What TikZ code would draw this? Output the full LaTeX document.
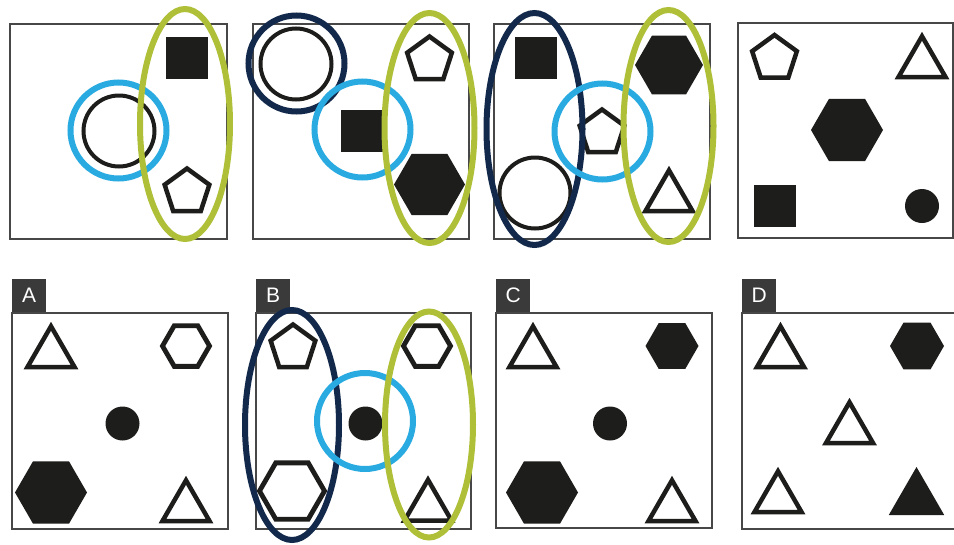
\documentclass[tikz,border=0pt]{standalone}
\usepackage{fontspec}
\setmainfont{Liberation Sans}

\definecolor{ink}{HTML}{1D1D1B}
\definecolor{frame}{HTML}{474747}
\definecolor{hexgray}{HTML}{3C3C3C}
\definecolor{tagbg}{HTML}{3A3A3A}
\definecolor{cyanring}{HTML}{29ABE2}
\definecolor{limering}{HTML}{AFC038}
\definecolor{navyring}{HTML}{13294B}

\tikzset{
  panel/.style={draw=frame,line width=2pt,fill=white,inner sep=0pt},
  tag/.style={fill=tagbg,text=white,font=\fontsize{21}{21}\selectfont,minimum width=34pt,minimum height=33pt,inner sep=0pt,anchor=south west},
  outl/.style={draw=ink,line width=4.5pt},
  ring/.style={line width=6pt},
  % shapes inside the panels
  tri/.pic={\draw[outl] (-90:27.2) -- (30:27.2) -- (150:27.2) -- cycle;},
  trif/.pic={\fill[ink] (-90:32) -- (30:32) -- (150:32) -- cycle;},
  pent/.pic={\draw[outl] (-90:23.5) -- (-18:23.5) -- (54:23.5) -- (126:23.5) -- (198:23.5) -- cycle;},
  hexf/.pic={\fill[ink] (0:#1) \foreach \a in {60,120,...,300}{ -- (\a:#1)} -- cycle;},
  hexo/.pic={\draw[outl,line width=4.8pt,pic actions] (0:#1) \foreach \a in {60,120,...,300}{ -- (\a:#1)} -- cycle;},
  sq/.pic={\fill[ink] (-21,-21) rectangle (21,21);},
  dot/.pic={\fill[ink] (0,0) circle (17);},
  circ/.pic={\draw[outl,line width=4pt] (0,0) circle (35.5);}
}

\begin{document}
\begin{tikzpicture}[x=1pt,y=-1pt]
\useasboundingbox (0,0) rectangle (954,544);

% question row
\node[panel,minimum width=217pt,minimum height=215pt] (q1) at (118.5,131.5) {};
\node[panel,minimum width=216pt,minimum height=215pt] (q2) at (361,131.5) {};
\node[panel,minimum width=216pt,minimum height=215pt] (q3) at (602,131.5) {};
\node[panel,minimum width=215pt,minimum height=215pt] (q4) at (845.5,130.5) {};

% answer row
\node[panel,minimum width=216pt,minimum height=216pt] (pA) at (120,421) {};
\node[panel,minimum width=215pt,minimum height=216pt] (pB) at (363.5,421) {};
\node[panel,minimum width=216pt,minimum height=215pt] (pC) at (604,420.5) {};
\node[panel,minimum width=220pt,minimum height=216pt] (pD) at (852,421) {};
\node[tag] (tA) at (12,312) {A};
\node[tag] (tB) at (256,312) {B};
\node[tag] (tC) at (496,312) {C};
\node[tag] (tD) at (742,312) {D};

% panel 1
\pic at (187,58) {sq};
\pic at (119,131) {circ};
\pic at (187,192) {pent};
\draw[ring,cyanring] (118.5,130.5) circle (48);
\draw[ring,limering] (185,124) ellipse [x radius=45,y radius=115];

% panel 2
\pic at (296,64) {circ};
\pic at (362,131) {sq};
\pic at (429.5,60) {pent};
\pic at (429.5,184.5) {hexf=35.5};
\draw[ring,navyring] (296.5,63.5) circle (48);
\draw[ring,cyanring] (362.5,129.5) circle (48);
\draw[ring,limering] (429.5,128) ellipse [x radius=45,y radius=115];

% panel 3
\pic at (535.5,57.5) {sq};
\pic at (535,193) {circ};
\pic at (602,133) {pent};
\pic at (669,65) {hexf=34};
\pic at (669,197.5) {tri};
\draw[ring,navyring] (534.5,129) ellipse [x radius=48,y radius=116];
\draw[ring,cyanring] (602.5,131.5) circle (48);
\draw[ring,limering] (668.5,126) ellipse [x radius=45,y radius=116];

% panel 4
\pic at (774.5,58.5) {pent};
\pic at (922,63.5) {tri};
\pic at (847,130) {hexf=36};
\pic at (775,206) {sq};
\pic at (922,206) {dot};

% A
\pic at (51,353.5) {tri};
\pic[draw=hexgray] at (186,346) {hexo=23.5};
\pic at (122.5,423.5) {dot};
\pic at (51,492.5) {hexf=36};
\pic at (186,507.5) {tri};

% B
\pic at (293,348) {pent};
\pic[draw=hexgray] at (427,346) {hexo=23.5};
\pic at (365.5,423.5) {dot};
\pic at (292,491) {hexo=32.5};
\pic at (428,507) {tri};
\draw[ring,navyring] (292,425) ellipse [x radius=47,y radius=115];
\draw[ring,cyanring] (365,421) circle (48);
\draw[ring,limering] (429,424.5) ellipse [x radius=44,y radius=113];

% C
\pic at (533,353.5) {tri};
\pic at (672,346) {hexf=26.5};
\pic at (610,423.5) {dot};
\pic at (542,492.5) {hexf=36};
\pic at (672,507.5) {tri};

% D
\pic at (780.5,353.5) {tri};
\pic at (917,346) {hexf=27};
\pic at (849.5,429.5) {tri};
\pic at (778,498.5) {tri};
\pic at (916.5,499) {trif};
\end{tikzpicture}
\end{document}
